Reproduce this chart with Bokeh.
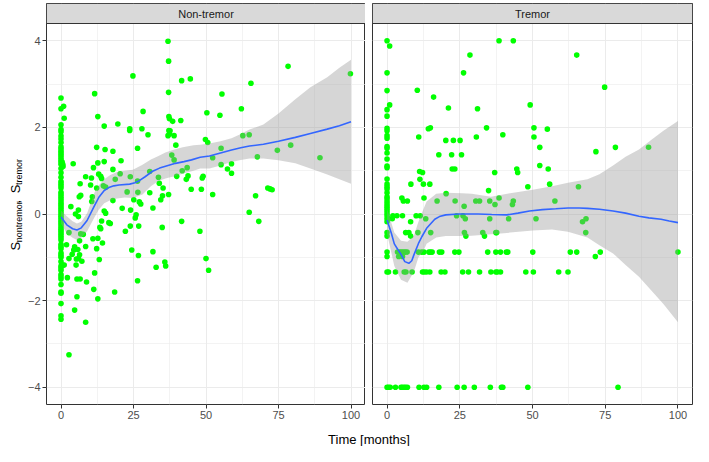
from bokeh.plotting import figure
from bokeh.layouts import row, column
from bokeh.models import Range1d, FixedTicker, Label
from bokeh.embed import file_html
from bokeh.resources import INLINE

# ---------------- data ----------------
panel_titles = ["Non-tremor", "Tremor"]
x_ticks = [0, 25, 50, 75, 100]
x_minor = [12.5, 37.5, 62.5, 87.5]
y_ticks = [-4, -2, 0, 2, 4]
y_minor = [-3, -1, 1, 3]

# Non-tremor scatter
nt_zero_y = [2.68, 2.43, 2.06, 1.95, 1.9, 1.8, 1.73, 1.65, 1.55, 1.5, 1.45, 1.4, 1.35, 1.3, 1.25,
             1.2, 1.15, 1.05, 0.95, 0.85, 0.75, 0.7, 0.65, 0.6, 0.5, 0.45, 0.4, 0.35, 0.3, 0.25,
             0.2, 0.15, 0.1, 0.05, 0.0, -0.05, -0.1, -0.15, -0.2, -0.25, -0.3, -0.35, -0.4, -0.45,
             -0.5, -0.55, -0.6, -0.7, -0.75, -0.8, -0.9, -0.95, -1.0, -1.1, -1.2, -1.25, -1.3,
             -1.4, -1.45, -1.5, -1.63, -1.8, -1.83, -2.07, -2.35, -2.43]
nt_x_other = [0.9, 1.1, 0.7, 0.5, 1.1, 0.4, 0.6,
              4.2, 3.4, 5, 6, 6.6, 6.3, 6.8, 6, 8.5, 10.5, 10.2, 10.8, 10.6, 11.6, 12.7, 12.3, 11.2,
              12.7, 13, 13.7, 14, 12.3, 14.9, 15.2, 14.9, 14.6, 15.4, 14.9, 15.4, 14, 16.5, 17.9,
              17.9, 17.9, 18.7, 19.6, 20.4, 20.7, 21.1, 22.8, 23.7, 23.7, 24.8, 23.9, 24, 25.1,
              26.5, 26.4, 26.4, 27, 27.5, 27.9, 28.3, 30, 30.6, 30.6, 31.7, 33.6, 33.9, 34.4, 35,
              35.2, 36.9, 37.1, 37.1, 37.2, 37.4, 36.9, 37.2, 37.6, 37.4, 37.1, 38.2, 38.5, 39, 39,
              39.6, 39.9, 41.3, 41.6, 41.8, 43.2, 43.5, 43.8, 44.6, 44.9, 48.4, 48.7, 49, 49.8,
              50.3, 50.6, 52.3, 52.3, 54.8, 55.2, 55.2, 55.5, 57.4, 58.8, 58.8, 62.2, 62.7, 64.9,
              65.5, 64.9, 67.1, 67.7, 68.2, 71.3, 72.1, 72.8, 74.6, 78.3, 79.2, 89.3, 99.8,
              1.9, 2.75, 2.75, 2.2, 2.75, 3.85, 4.4, 4.7, 4.7, 5.2, 5.3, 5.5, 5.5, 5.8, 6.05, 6.6,
              6.4, 6.4, 6.8, 7.2, 7.7, 8.5, 8.8, 8.5, 11, 11.3, 11.6, 12.3, 12.7, 12.7, 13.2, 13.4,
              13.7, 14.3, 17, 18.5, 22.2, 23.9, 24.4, 25.6, 25.9, 26.8, 26.4, 26.7, 31.7, 32.8,
              34.9, 35.8, 36.1, 41.6, 47.9, 50, 50.9]
nt_y_other = [2.49, 2.21, 1.1, -1.18, -1.18, 1.2, 1.15,
              1.16, 0.17, 0.0, -0.06, 0.70, 0.4, 0.43, 0.09, 0.86, 0.83, 0.67, 0.4, 0.29, 2.78, 2.25,
              1.54, 1.07, 1.18, 0.92, 0.87, 0.82, 0.6, 2.03, 1.49, 1.21, 0.65, 0.62, 0.07, 0.02,
              -0.16, -0.2, 1.45, 1.03, 0.31, 0.8, 2.08, 0.93, 1.23, 0.13, 0.51, 1.93, 1.97, 3.19,
              0.86, 0.09, 0.33, 0.5, 1.52, 0.76, 0.28, 0.23, 1.97, 2.37, 1.83, 0.98, 0.49, 0.14,
              0.85, 0.71, 0.33, 0.42, 0.6, 3.99, 3.53, 2.81, 2.25, 2.2, 1.81, 1.93, 1.92, 1.85, 0.45,
              1.36, 2.14, 1.81, 1.25, 1.59, 0.87, 2.16, 3.08, 1.0, 0.8, 1.07, 0.88, 3.12, 0.57,
              0.57, 0.83, 0.87, 1.72, 2.34, 1.65, 1.3, 0.45, 2.28, 1.52, 1.14, 2.77, 1.04, 0.94,
              1.16, 2.43, 1.81, 1.83, 3.02, 0.04, 0.42, 1.32, -0.17, 0.6, 0.58, 0.56, 1.47, 3.41,
              1.59, 1.3, 3.24,
              -0.71, -0.43, -1.03, -1.47, -3.25, -0.93, -0.83, -0.76, -2.22, -1.18, -1.04, -1.5,
              -1.91, -0.82, -1.03, -1.5, -0.62, -0.94, -0.46, -1.09, -0.47, -0.75, -1.57, -2.5,
              -0.57, -1.74, -1.36, -0.8, -0.56, -1.96, -1.05, -0.31, -0.34, -0.67, -0.22, -1.8,
              -0.4, -0.28, -0.83, -0.09, -0.02, -0.28, -1.54, -0.96, -0.87, -1.23, -0.31, -1.11,
              -1.2, -0.17, -0.4, -1.03, -1.3]

# Tremor scatter
tr_zero_y = [4.0, 3.26, 2.85, 2.41, 2.26, 1.98, 1.92, 1.81, 1.75, 1.56, 1.52, 1.41, 1.27, 1.11,
             1.07, 0.81, 0.69, 0.63, 0.58, 0.49, 0.40, 0.35, 0.29, 0.23, 0.18, 0.13, 0.08, 0.02,
             -0.04, -0.11, -0.18, -0.43, -0.51, -0.88, -0.98, -1.34, -4.0]
tr_x_other = [0.9, 0.9, 38.5, 43.4, 28.5, 26.3, 65.2, 10.4, 16, 21.1, 31.1, 49.2, 74.8, 14.2, 14.9,
              10.9, 34.2, 30.7, 39.8, 50.5, 50.5, 55.1, 20.2, 22.8, 25.1, 17.8, 22.2, 25.6, 52.5,
              71.8, 78.5, 89.9, 11.2, 12.2, 22.4, 23.3, 37, 44.6, 44.9, 52.5, 55.4, 11.3, 8.2,
              12.5, 14.7, 48.4, 55.9, 34.9, 20.3, 65.8, 12.7, 5.1, 5.6, 7, 17.2, 23.4, 30.5, 31.8,
              35.3, 38.5, 37.1, 26.5, 43.4, 43.1, 57.7]
tr_y_other = [3.88, 2.52, 4.0, 4.0, 3.67, 3.26, 3.67, 2.86, 2.7, 2.45, 2.43, 2.52, 2.93, 1.97, 1.99,
              1.78, 1.99, 1.78, 1.83, 1.99, 1.78, 1.96, 1.7, 1.7, 1.7, 1.37, 1.37, 1.37, 1.54,
              1.44, 1.54, 1.54, 0.98, 0.96, 1.04, 1.04, 0.96, 1.04, 0.96, 1.12, 1.04, 0.8, 0.69,
              0.69, 0.69, 0.63, 0.69, 0.54, 0.47, 0.63, 0.37, 0.37, 0.3, 0.3, 0.3, 0.3, 0.3, 0.3,
              0.3, 0.37, 0.22, 0.18, 0.3, 0.22, 0.3]
tr_row_levels = [-0.04, -0.11, -0.18, -0.43, -0.51, -0.88, -0.98, -1.34, -4.0]
tr_row_x = [
    [2, 3.4, 5.3, 10, 11.4, 23.9, 26.1],
    [0.5, 1.8, 13.3, 26.9, 35.3, 41.8, 51.2, 68.4],
    [8.1, 67.2],
    [6.4, 7.5, 10.6, 15, 26.6, 32.9, 37.4, 37.7, 68.3],
    [8.1, 27.1, 33.5],
    [3.6, 4.1, 4.7, 5.2, 5.8, 6.3, 6.9, 10.8, 11.9, 12.7, 14.4, 14.9, 15.5, 18, 18.8, 23.3,
     24.7, 34.6, 37.4, 39, 41, 41.5, 50.1, 63, 65.2, 73.3, 100],
    [4, 5.3, 71.6],
    [0.5, 2.9, 5.9, 6.5, 8.6, 12.2, 12.8, 13.6, 14.7, 18.6, 19.9, 26, 28, 31.8, 35.7, 37.4,
     37.9, 39, 47.7, 50.3, 59, 62.2],
    [0.5, 1.1, 2.9, 4.8, 5.3, 5.9, 6.4, 7, 11, 12.7, 13.6, 17.8, 24.1, 26.5, 30, 35.5, 39.3,
     39.8, 48.4, 79.4],
]

# Smooth (loess) fits
nt_fit_x = [0, 2, 4, 5.5, 7, 9, 11.6, 13, 14.9, 16.5, 18.2, 20, 23.7, 25.5, 27, 29, 31.4, 34,
            36.9, 39.5, 42.4, 45, 48, 51.2, 55, 58.8, 62, 65, 69.8, 75, 80.8, 86, 91.8, 96, 100]
nt_fit_y = [-0.07, -0.25, -0.34, -0.37, -0.32, -0.15, 0.2, 0.38, 0.54, 0.61, 0.65, 0.67, 0.69,
            0.72, 0.77, 0.86, 0.98, 1.06, 1.12, 1.17, 1.21, 1.25, 1.31, 1.34, 1.41, 1.48, 1.53,
            1.57, 1.61, 1.68, 1.77, 1.86, 1.96, 2.04, 2.13]
nt_band_x = [0, 2, 4, 5.5, 7, 9, 11.6, 13, 14.9, 17, 19.3, 22, 24.8, 28.1, 31, 33.6, 36, 39.1,
             42, 45.7, 48, 51.2, 55, 58.8, 62, 65, 69.8, 75, 80.8, 86, 91.8, 96, 100]
nt_band_hi = [0.08, -0.05, -0.17, -0.22, -0.18, 0.02, 0.5, 0.66, 0.80, 0.90, 0.97, 1.0, 1.02,
              1.14, 1.26, 1.34, 1.42, 1.49, 1.54, 1.59, 1.60, 1.63, 1.68, 1.75, 1.85, 1.95, 2.07,
              2.32, 2.65, 2.93, 3.16, 3.38, 3.56]
nt_band_lo = [-0.22, -0.45, -0.55, -0.6, -0.55, -0.4, -0.07, 0.1, 0.25, 0.32, 0.36, 0.38, 0.37,
              0.45, 0.64, 0.76, 0.82, 0.87, 0.93, 1.0, 1.05, 1.05, 1.12, 1.2, 1.25, 1.28, 1.28,
              1.24, 1.17, 1.05, 0.91, 0.80, 0.70]

tr_fit_x = [0, 1.5, 2.5, 3.7, 4.8, 6.1, 7.5, 8.5, 9.2, 10.8, 12, 13.6, 16.4, 18, 20.2, 24.7, 31.3,
            36, 41.2, 45, 49, 53.4, 58, 62.2, 66, 68.9, 73, 77.7, 82, 86.6, 90, 94.2, 97, 100]
tr_fit_y = [-0.14, -0.45, -0.69, -0.82, -0.93, -1.1, -1.14, -1.08, -0.95, -0.68, -0.52, -0.33,
            -0.12, -0.06, -0.02, 0.0, 0.0, -0.01, -0.02, 0.02, 0.07, 0.1, 0.12, 0.14, 0.14, 0.13,
            0.11, 0.07, 0.02, -0.05, -0.09, -0.12, -0.16, -0.2]
tr_band_x = [0, 2.5, 4.8, 7, 9.2, 10.8, 12.5, 13.6, 16.9, 20.2, 25.8, 29.1, 35.7, 42.3, 50.1, 56.7,
             62.2, 68.9, 73, 77.7, 82, 86.6, 91, 95, 100]
tr_band_hi = [0.12, -0.43, -0.62, -0.64, -0.5, -0.18, 0.11, 0.29, 0.47, 0.49, 0.48, 0.47, 0.40,
              0.48, 0.56, 0.64, 0.72, 0.80, 0.92, 1.12, 1.32, 1.49, 1.72, 1.92, 2.15]
tr_band_lo = [-0.45, -1.2, -1.52, -1.59, -1.34, -1.0, -0.85, -0.69, -0.54, -0.51, -0.51, -0.5,
              -0.47, -0.43, -0.38, -0.36, -0.41, -0.54, -0.72, -0.91, -1.18, -1.45, -1.78, -2.08,
              -2.5]

# ---------------- assemble ----------------
nt_x = [0.0] * len(nt_zero_y) + nt_x_other
nt_y = nt_zero_y + nt_y_other
tr_x = [0.0] * len(tr_zero_y) + tr_x_other
tr_y = tr_zero_y + tr_y_other
for lvl, xs in zip(tr_row_levels, tr_row_x):
    tr_x += xs
    tr_y += [lvl] * len(xs)

ROW_H = 424
XLAB_H = 22
MB_TOP, MB_BOT = 3, 20
STRIP_PX = 20
Y0, Y1 = -4.4, 4.4
X0, X1 = -5, 105
frame_h = ROW_H - MB_TOP - MB_BOT
panel_px = frame_h - STRIP_PX
YTOP = Y1 + STRIP_PX * (Y1 - Y0) / panel_px

YLAB_W = 24
P1_MBL, P1_FRAME = 21, 320
P2_MBL, P2_FRAME, P2_MBR = 7, 320, 1


def make_panel(title, xs, ys, fx, fy, bx, bhi, blo, width, mbl, mbr, yaxis):
    p = figure(width=width, height=ROW_H, output_backend="svg", toolbar_location=None, tools="",
               x_range=Range1d(X0, X1), y_range=Range1d(Y0, YTOP),
               min_border_left=mbl, min_border_right=mbr, min_border_top=MB_TOP,
               min_border_bottom=MB_BOT, y_axis_location="left" if yaxis else None)
    p.background_fill_color = "white"
    p.border_fill_color = "white"
    p.outline_line_color = "#333333"
    p.outline_line_width = 1
    for g, t, m in ((p.xgrid, x_ticks, x_minor), (p.ygrid, y_ticks, y_minor)):
        g.ticker = FixedTicker(ticks=t, minor_ticks=m)
        g.grid_line_color = "#EBEBEB"
        g.grid_line_width = 1
        g.minor_grid_line_color = "#EBEBEB"
        g.minor_grid_line_width = 0.6
    axes = [p.xaxis[0]] + ([p.yaxis[0]] if yaxis else [])
    p.xaxis.ticker = FixedTicker(ticks=x_ticks)
    if yaxis:
        p.yaxis.ticker = FixedTicker(ticks=y_ticks)
    for ax in axes:
        ax.axis_line_color = None
        ax.major_tick_line_color = "#333333"
        ax.major_tick_out = 4
        ax.major_tick_in = 0
        ax.minor_tick_line_color = None
        ax.major_label_standoff = 2
        ax.axis_label_standoff = 0
        ax.major_label_text_font = "Liberation Sans"
        ax.major_label_text_font_size = "11px"
        ax.major_label_text_color = "#4D4D4D"
    p.scatter(xs, ys, size=5.6, fill_color="#00FF00", line_color=None)
    p.varea(x=bx, y1=blo, y2=bhi, fill_color="#999999", fill_alpha=0.4)
    p.line(fx, fy, line_color="#3366FF", line_width=1.6)
    # facet strip
    p.quad(left=[X0], right=[X1], bottom=[Y1], top=[YTOP], fill_color="#D9D9D9",
           line_color="#333333", line_width=1)
    p.add_layout(Label(x=50, y=(Y1 + YTOP) / 2, text=title, text_align="center",
                       text_baseline="middle", text_font="Liberation Sans",
                       text_font_size="11px", text_color="#1A1A1A"))
    return p


p1 = make_panel(panel_titles[0], nt_x, nt_y, nt_fit_x, nt_fit_y, nt_band_x, nt_band_hi,
                nt_band_lo, P1_MBL + P1_FRAME, P1_MBL, 0, True)
p2 = make_panel(panel_titles[1], tr_x, tr_y, tr_fit_x, tr_fit_y, tr_band_x, tr_band_hi,
                tr_band_lo, P2_MBL + P2_FRAME + P2_MBR, P2_MBL, P2_MBR, False)


def blank(w, h):
    f = figure(width=w, height=h, output_backend="svg", toolbar_location=None, tools="",
               x_range=Range1d(0, w), y_range=Range1d(0, h),
               min_border_left=0, min_border_right=0, min_border_top=0, min_border_bottom=0,
               x_axis_location=None, y_axis_location=None)
    f.xgrid.visible = False
    f.ygrid.visible = False
    f.outline_line_color = None
    f.background_fill_color = "white"
    f.border_fill_color = "white"
    return f


# y-axis title with subscripts (rotated), in its own narrow canvas
ylab = blank(YLAB_W, ROW_H)
W = {"S": 0.667, "n": 0.556, "o": 0.556, "t": 0.278, "r": 0.333, "e": 0.556, "m": 0.833,
     ",": 0.278, " ": 0.278}
pieces = [("S", 13, 15.0), ("nontremor", 9, 18.0), (" , ", 13, 15.0), ("S", 13, 15.0),
          ("tremor", 9, 18.0)]
lens = [sum(W[c] for c in s) * fs for s, fs, _ in pieces]
center_y = ROW_H - (MB_TOP + STRIP_PX + panel_px / 2)
pos = center_y - sum(lens) / 2
for (s, fs, bx_), ln in zip(pieces, lens):
    ylab.add_layout(Label(x=bx_, y=pos, text=s, angle=1.5707963, text_align="left",
                          text_baseline="alphabetic", text_font="Liberation Sans",
                          text_font_size=f"{fs}px", text_color="black"))
    pos += ln

# x-axis title, centred across both panels
TOTAL_W = YLAB_W + P1_MBL + P1_FRAME + P2_MBL + P2_FRAME + P2_MBR
xlab = blank(TOTAL_W, XLAB_H)
frame_left = YLAB_W + P1_MBL
frame_right = TOTAL_W - P2_MBR
xlab.add_layout(Label(x=(frame_left + frame_right) / 2, y=7, text="Time [months]",
                      text_align="center", text_baseline="alphabetic",
                      text_font="Liberation Sans", text_font_size="13px", text_color="black"))

layout = column(row(ylab, p1, p2), xlab)
open("out.html", "w").write(file_html(layout, INLINE))
